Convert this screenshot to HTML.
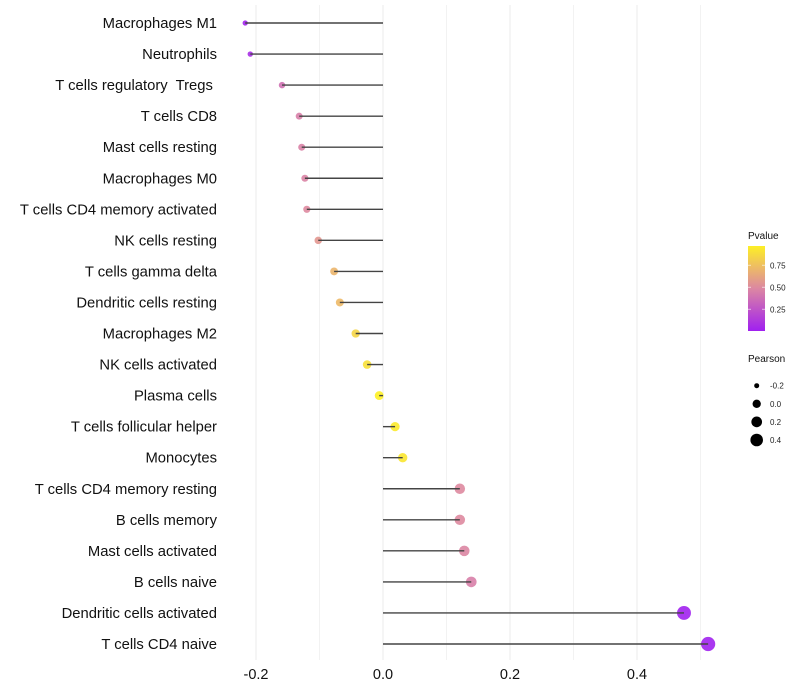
<!DOCTYPE html>
<html><head><meta charset="utf-8"><style>
body{margin:0;background:#fff;}
svg{display:block;font-family:"Liberation Sans",sans-serif;}
</style></head><body>
<svg id="chart" width="800" height="700"></svg>
<script>
const categories=["Macrophages M1","Neutrophils","T cells regulatory  Tregs ","T cells CD8","Mast cells resting","Macrophages M0","T cells CD4 memory activated","NK cells resting","T cells gamma delta","Dendritic cells resting","Macrophages M2","NK cells activated","Plasma cells","T cells follicular helper","Monocytes","T cells CD4 memory resting","B cells memory","Mast cells activated","B cells naive","Dendritic cells activated","T cells CD4 naive"];
const pearson=[-0.217,-0.209,-0.159,-0.132,-0.128,-0.123,-0.120,-0.102,-0.077,-0.068,-0.043,-0.025,-0.006,0.019,0.031,0.121,0.121,0.128,0.139,0.474,0.512];
const pvalues=[0.02,0.06,0.38,0.45,0.46,0.47,0.5,0.56,0.7,0.72,0.85,0.9,0.98,0.95,0.93,0.5,0.5,0.48,0.45,0.01,0.01];
const xTicks=[-0.2,0.0,0.2,0.4];
const xMinor=[-0.1,0.1,0.3,0.5];
const pTicks=[0.25,0.5,0.75];
const sizeLegend=[-0.2,0.0,0.2,0.4];

const NS="http://www.w3.org/2000/svg";
const svg=document.getElementById('chart');
function el(t,a,p){const e=document.createElementNS(NS,t);for(const k in a)e.setAttribute(k,a[k]);(p||svg).appendChild(e);return e;}
const xs=v=>383+v*635;
const ys=i=>23+i*31.05;
const rs=v=>Math.sqrt(Math.max(2.5,20+60*v));
const rl=v=>Math.sqrt(Math.max(1.5,17.4+55.7*v));
function lerp(a,b,t){return a.map((x,i)=>Math.round(x+(b[i]-x)*t));}
function pcol(p){const c0=[160,32,240],c1=[222,138,160],c2=[255,245,30];
 const c=p<0.5?lerp(c0,c1,p/0.5):lerp(c1,c2,(p-0.5)/0.5);return `rgb(${c.join(',')})`;}

xMinor.forEach(v=>{const g=el('line',{x1:xs(v),x2:xs(v),y1:5,y2:660,stroke:'#f2f2f2','stroke-width':1});
});
xTicks.forEach(v=>{const g=el('line',{x1:xs(v),x2:xs(v),y1:5,y2:660,stroke:'#ebebeb','stroke-width':1});

const t=el('text',{x:xs(v),y:679,'text-anchor':'middle','font-size':14.5,fill:'#111'});t.textContent=v.toFixed(1);
});

categories.forEach((c,i)=>{
 const y=ys(i);
 const t=el('text',{x:217,y:y+5,'text-anchor':'end','font-size':14.8,fill:'#111','xml:space':'preserve'});
 t.style.whiteSpace='pre';t.textContent=c;
 
 const d=el('circle',{cx:xs(pearson[i]),cy:y,r:rs(pearson[i]),fill:pcol(pvalues[i]),'fill-opacity':0.9});
 
 const l=el('line',{x1:xs(0),x2:xs(pearson[i]),y1:y,y2:y,stroke:'#444','stroke-width':1.4});
 
});

const lt=el('text',{x:748,y:239,'font-size':10,fill:'#111'});lt.textContent='Pvalue';

const defs=el('defs',{});const gr=el('linearGradient',{id:'pg',x1:0,y1:1,x2:0,y2:0},defs);
[0,0.25,0.5,0.75,1].forEach(s=>el('stop',{offset:s,'stop-color':pcol(s*0.97)},gr));
const cb=el('rect',{x:748,y:246,width:17,height:85,fill:'url(#pg)'});

pTicks.forEach(p=>{const y=331.3-p*88;
 el('line',{x1:748,x2:751,y1:y,y2:y,stroke:'#fff','stroke-opacity':0.6});
 el('line',{x1:762,x2:765,y1:y,y2:y,stroke:'#fff','stroke-opacity':0.6});
 const t=el('text',{x:770,y:y+3,'font-size':8,fill:'#222'});t.textContent=p.toFixed(2);
 });

const st=el('text',{x:748,y:362,'font-size':10,fill:'#111'});st.textContent='Pearson';

sizeLegend.forEach((v,i)=>{const y=385.7+i*18.1;
 const c=el('circle',{cx:756.7,cy:y,r:rl(v),fill:'#000'});
 
 const t=el('text',{x:770,y:y+3,'font-size':8,fill:'#222'});t.textContent=v.toFixed(1);
 });
</script>
</body></html>
